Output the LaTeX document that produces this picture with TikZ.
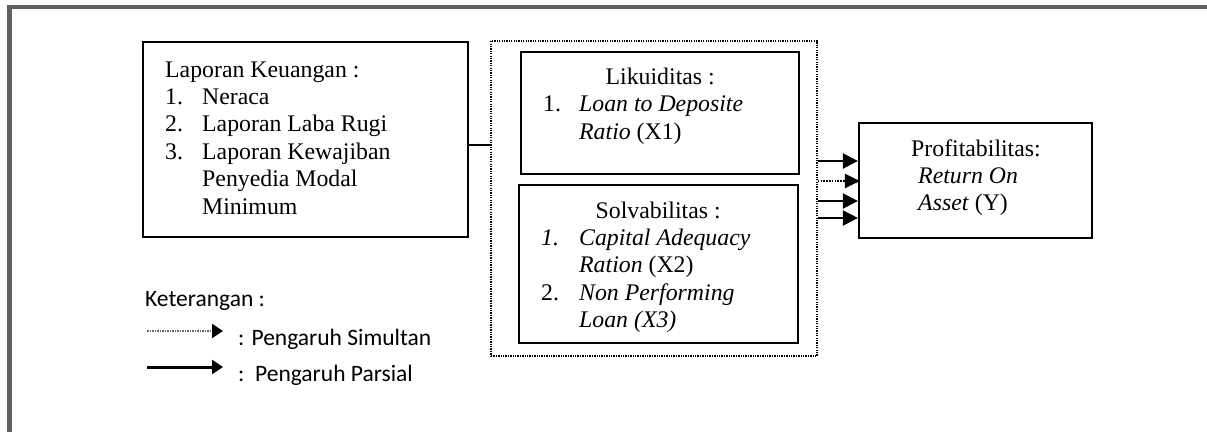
\documentclass[tikz,border=0pt]{standalone}
\usepackage{fontspec}
\setmainfont{Liberation Serif}
\newfontfamily\ketfont{Carlito}
\usetikzlibrary{arrows.meta}

\definecolor{abubingkai}{RGB}{96,96,96}
\definecolor{abutitik}{RGB}{105,105,105}

\newcommand{\nomor}[2]{\makebox[#1][l]{#2}}

\tikzset{
  bingkai/.style={draw=abubingkai, line width=4.3pt},
  kotak/.style={draw, line width=2.2pt, inner sep=0pt},
  wadah/.style={draw, line width=1.4pt, dash pattern=on 1.3pt off 1.1pt, inner sep=0pt},
  isi/.style={inner sep=0pt, align=left, font=\fontsize{23.8}{27.4}\selectfont},
  ket/.style={inner sep=0pt, font=\ketfont\fontsize{23.5}{27}\selectfont},
  parsial/.style={line width=2.2pt, -{Triangle[length=15pt,width=15pt]}},
  simultan/.style={line width=2.2pt, dash pattern=on 1.6pt off 1.2pt,
    -{Triangle[length=15pt,width=14pt]}, shorten >=-2pt},
  contohparsial/.style={line width=3pt, -{Triangle[length=11pt,width=14pt]}},
  contohsimultan/.style={draw=abutitik, line width=2pt, dash pattern=on 1.5pt off 1pt,
    -{Triangle[length=11pt,width=14pt,color=black]}},
}

\begin{document}
\begin{tikzpicture}[x=1pt, y=-1pt]
  \useasboundingbox (0,0) rectangle (1207,432);
  \draw[bingkai] (9.5,432) -- (9.5,7.2) -- (1207,7.2);

  % laporan keuangan
  \node[kotak, minimum width=325pt, minimum height=195pt] (lapkeu) at (305.5,139.5) {};
  \node[isi, anchor=base west] (lapkeuisi) at (165,214) {Laporan Keuangan :\\
    \nomor{37pt}{1.}Neraca\\
    \nomor{37pt}{2.}Laporan Laba Rugi\\
    \nomor{37pt}{3.}Laporan Kewajiban\\
    \hspace*{37pt}Penyedia Modal\\
    \hspace*{37pt}Minimum};

  % variabel X
  \node[wadah, minimum width=326pt, minimum height=315pt] (variabelx) at (654,198.5) {};
  \node[kotak, minimum width=278pt, minimum height=122pt] (likuid) at (660,113) {};
  \node[isi, anchor=base west] (likuidisi) at (543,139) {\makebox[234pt][c]{Likuiditas :}\\
    \nomor{36pt}{1.}\textit{Loan to Deposite}\\
    \hspace*{36pt}\textit{Ratio} (X1)};
  \node[kotak, minimum width=279pt, minimum height=158pt] (solva) at (658.5,264) {};
  \node[isi, anchor=base west] (solvaisi) at (541,327.6) {\makebox[234pt][c]{Solvabilitas :}\\
    \nomor{38pt}{\textit{1.}}\textit{Capital Adequacy}\\
    \hspace*{38pt}\textit{Ration} (X2)\\
    \nomor{38pt}{2.}\textit{Non Performing}\\
    \hspace*{38pt}\textit{Loan (X3)}};

  % variabel Y
  \node[kotak, minimum width=233pt, minimum height=115pt] (profit) at (975.5,180.5) {};
  \node[isi, anchor=base west] (profitisi) at (911,210.8) {Profitabilitas:\\
    \hspace*{7pt}\textit{Return On}\\
    \hspace*{7pt}\textit{Asset} (Y)};

  \draw[line width=2pt] ([yshift=-5.5pt]lapkeu.east) -- ([yshift=-5.5pt]lapkeu.east -| variabelx.west);

  \draw[parsial] ([yshift=19.5pt]variabelx.east |- profit.west) -- ([yshift=19.5pt]profit.west);
  \draw[simultan] ([yshift=-0.5pt]variabelx.east |- profit.west) -- ([yshift=-0.5pt]profit.west);
  \draw[parsial] ([yshift=-20.5pt]variabelx.east |- profit.west) -- ([yshift=-20.5pt]profit.west);
  \draw[parsial] ([yshift=-37.5pt]variabelx.east |- profit.west) -- ([yshift=-37.5pt]profit.west);

  % keterangan
  \node[ket, anchor=base west] (keterangan) at (145,306) {Keterangan :};
  \coordinate (simawal) at (147,331);
  \coordinate (simakhir) at (223,331);
  \draw[contohsimultan] (simawal) -- (simakhir);
  \node[ket, anchor=base west] (simultanket) at (238,345) {: Pengaruh Simultan};
  \coordinate (parawal) at (147,367);
  \coordinate (parakhir) at (223,367);
  \draw[contohparsial] (parawal) -- (parakhir);
  \node[ket, anchor=base west] (parsialket) at (238,381) {:\ \ Pengaruh Parsial};
\end{tikzpicture}
\end{document}
